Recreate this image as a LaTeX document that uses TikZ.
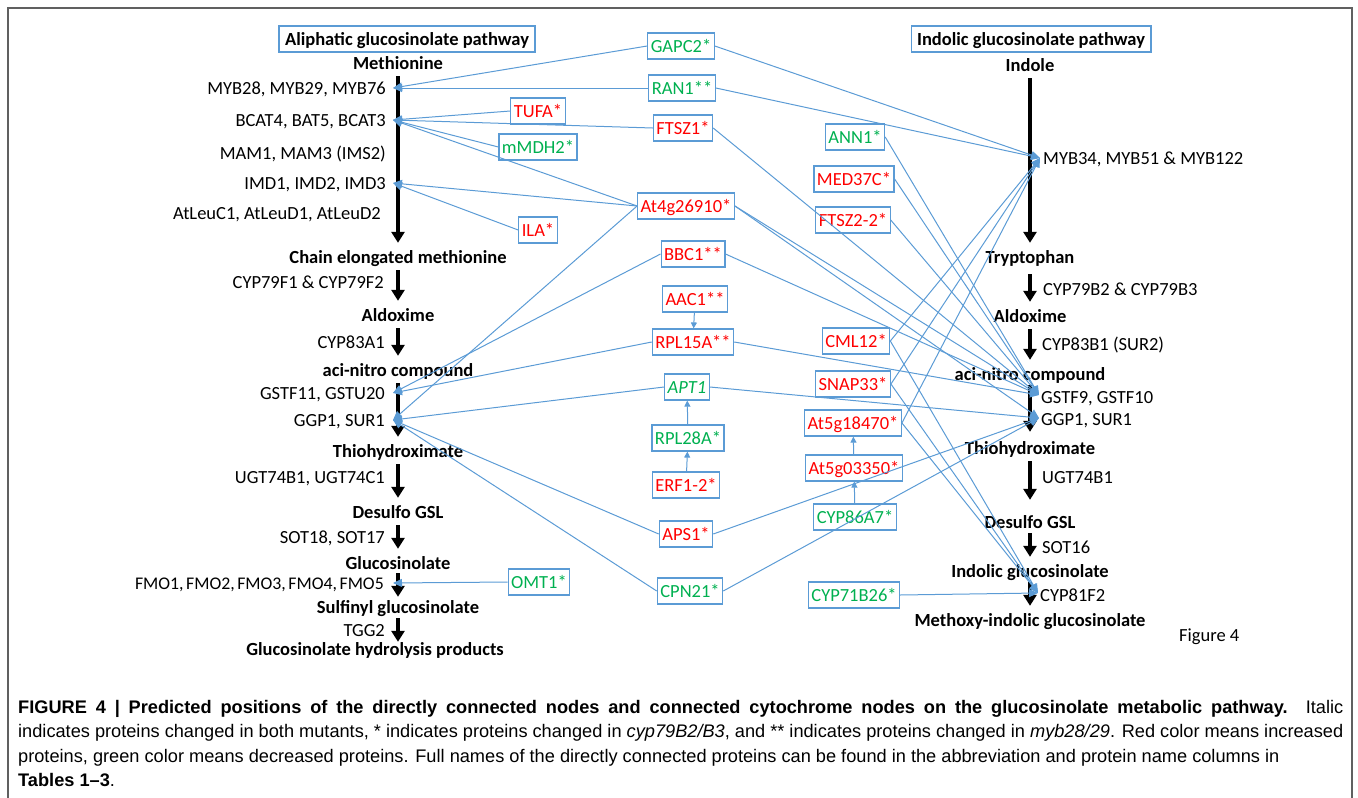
\documentclass[tikz,border=0pt]{standalone}
\usepackage{fontspec}
\setmainfont{Carlito}
\newfontfamily\capfont{Liberation Sans}
\usetikzlibrary{arrows.meta,positioning}
\definecolor{lnblue}{HTML}{5B9BD5}
\definecolor{incred}{HTML}{FF0000}
\definecolor{decgreen}{HTML}{00B050}
\definecolor{framegray}{HTML}{606060}
\newcommand{\dfont}{\fontsize{18.5}{22}\selectfont}

\tikzset{
  lbl/.style={font=\dfont, inner sep=0pt, text height=12pt, text depth=0pt},
  met/.style={lbl, font=\dfont\bfseries},
  prot/.style={lbl, draw=lnblue, line width=1.2pt, inner xsep=3pt, inner ysep=7pt},
  incr/.style={prot, text=incred},
  decr/.style={prot, text=decgreen},
  titlebox/.style={met, draw=lnblue, line width=1.2pt, inner xsep=6pt, inner ysep=7pt},
  flow/.style={line width=4.5pt, -{Triangle[width=13pt,length=11pt]}, shorten <=7pt, shorten >=8pt},
  link/.style={lnblue, line width=1pt},
  hit/.style={link, -{Triangle[length=9pt,width=8pt]}},
}

\begin{document}
\begin{tikzpicture}[x=1pt,y=-1pt]
\useasboundingbox (0,0) rectangle (1358,798);
\draw[framegray, line width=1.5pt] (8,798) -- (8,8) -- (1352,8) -- (1352,798);

\node[titlebox] (aliph) at (407,39) {Aliphatic glucosinolate pathway};
\node[met] (methio) at (398,63) {Methionine};
\node[lbl, anchor=east] (myb28) at (386,88) {MYB28, MYB29, MYB76};
\node[lbl, anchor=east] (bcat4) at (386,120) {BCAT4, BAT5, BCAT3};
\node[lbl, anchor=east] (mam1) at (386,153) {MAM1, MAM3 (IMS2)};
\node[lbl, anchor=east] (imd1) at (386,183) {IMD1, IMD2, IMD3};
\node[lbl, anchor=east] (leuc) at (381,213) {AtLeuC1, AtLeuD1, AtLeuD2};
\node[met] (chain) at (398,257) {Chain elongated methionine};
\node[lbl, anchor=east] (cyp79f) at (384,282) {CYP79F1 \& CYP79F2};
\node[met] (aldL) at (398,315) {Aldoxime};
\node[lbl, anchor=east] (cyp83a1) at (385,342) {CYP83A1};
\node[met] (aciL) at (398,370) {aci-nitro compound};
\node[lbl, anchor=east] (gstf11) at (385,393) {GSTF11, GSTU20};
\node[lbl, anchor=east] (ggpL) at (385,420) {GGP1, SUR1};
\node[met] (thioL) at (398,451) {Thiohydroximate};
\node[lbl, anchor=east] (ugtL) at (385,477) {UGT74B1, UGT74C1};
\node[met] (desL) at (398,512) {Desulfo GSL};
\node[lbl, anchor=east] (sot18) at (385,537) {SOT18, SOT17};
\node[met] (glucL) at (398,563) {Glucosinolate};
\node[lbl, anchor=east, font=\fontsize{17.8}{22}\selectfont] (fmo) at (384,583) {FMO1,\kern2.5pt FMO2,\kern2.5pt FMO3,\kern2.5pt FMO4,\kern2.5pt FMO5};
\node[met] (sulf) at (398,607) {Sulfinyl glucosinolate};
\node[lbl, anchor=east] (tgg2) at (385,630) {TGG2};
\node[met] (hydro) at (375,649) {Glucosinolate hydrolysis products};

\node[titlebox] (indol) at (1031,39) {Indolic glucosinolate pathway};
\node[met] (indole) at (1030,65) {Indole};
\node[lbl, anchor=west] (myb34) at (1043,158) {MYB34, MYB51 \& MYB122};
\node[met] (trp) at (1030,257) {Tryptophan};
\node[lbl, anchor=west] (cyp79b) at (1043,289) {CYP79B2 \& CYP79B3};
\node[met] (aldR) at (1030,316) {Aldoxime};
\node[lbl, anchor=west] (cyp83b1) at (1042,344) {CYP83B1 (SUR2)};
\node[met] (aciR) at (1030,374) {aci-nitro compound};
\node[lbl, anchor=west] (gstf9) at (1041,397) {GSTF9, GSTF10};
\node[lbl, anchor=west] (ggpR) at (1041,419) {GGP1, SUR1};
\node[met] (thioR) at (1030,448) {Thiohydroximate};
\node[lbl, anchor=west] (ugtR) at (1042,477) {UGT74B1};
\node[met] (desR) at (1030,522) {Desulfo GSL};
\node[lbl, anchor=west] (sot16) at (1042,547) {SOT16};
\node[met] (indgl) at (1030,571) {Indolic glucosinolate};
\node[lbl, anchor=west] (cyp81f2) at (1040,595) {CYP81F2};
\node[met] (methox) at (1030,620) {Methoxy-indolic glucosinolate};
\node[lbl, anchor=west] (fig) at (1179,635) {Figure 4};

\node[decr] (gapc2) at (681,46) {GAPC2*};
\node[decr] (ran1) at (682,88) {RAN1**};
\node[incr] (tufa) at (538,111) {TUFA*};
\node[incr] (ftsz1) at (683,128) {FTSZ1*};
\node[decr] (mmdh2) at (538,147) {mMDH2*};
\node[incr] (at4g) at (686,206) {At4g26910*};
\node[incr] (ila) at (538,230) {ILA*};
\node[incr] (bbc1) at (693,254) {BBC1**};
\node[incr] (aac1) at (695,299) {AAC1**};
\node[incr] (rpl15a) at (693,342) {RPL15A**};
\node[decr] (apt1) at (687,387) {\textit{APT1}};
\node[decr] (rpl28a) at (688,438) {RPL28A*};
\node[incr] (erf12) at (686,485) {ERF1-2*};
\node[incr] (aps1) at (686,534) {APS1*};
\node[decr] (omt1) at (539,582) {OMT1*};
\node[decr] (cpn21) at (690,591) {CPN21*};

\node[decr] (ann1) at (855,137) {ANN1*};
\node[incr] (med37c) at (854,179) {MED37C*};
\node[incr] (ftsz22) at (853,220) {FTSZ2-2*};
\node[incr] (cml12) at (856,341) {CML12*};
\node[incr] (snap33) at (853,384) {SNAP33*};
\node[incr] (at5g18) at (853,423) {At5g18470*};
\node[incr] (at5g03) at (854,468) {At5g03350*};
\node[decr] (cyp86) at (855,517) {CYP86A7*};
\node[decr] (cyp71) at (854,595) {CYP71B26*};

\coordinate (pmyb28) at (393,88);
\coordinate (pbcat) at (393,120);
\coordinate (pimd) at (393,183);
\coordinate (pgstL) at (393,393);
\coordinate (pggpL) at (393,420);
\coordinate (pfmo) at (393,583);
\coordinate (pmyb34) at (1040,158);
\coordinate (pgstR) at (1039,395);
\coordinate (pggpR) at (1039,418);
\coordinate (pcyp81) at (1038,593);

\draw[flow] (methio) -- (chain);
\draw[flow] (chain) -- (aldL);
\draw[flow] (aldL) -- (aciL);
\draw[flow] (aciL) -- (thioL);
\draw[flow] (thioL) -- (desL);
\draw[flow] (desL) -- (glucL);
\draw[flow, shorten <=4pt, shorten >=4pt] (glucL) -- (sulf);
\draw[flow, shorten <=5pt, shorten >=1pt] (sulf.south) -- (sulf.south |- hydro.north);

\draw[flow] (indole) -- (trp);
\draw[flow, shorten <=11pt] (trp) -- (aldR);
\draw[flow] (aldR) -- (aciR);
\draw[flow, shorten <=5pt, shorten >=10pt] (aciR) -- (thioR);
\draw[flow, shorten >=16pt] (thioR) -- (desR);
\draw[flow, shorten <=5pt] (desR) -- (indgl);
\draw[flow, shorten <=5pt] (indgl) -- (methox);

\foreach \s in {gapc2,ran1} \draw[hit] (\s.west) -- (pmyb28);
\foreach \s in {tufa,ftsz1,mmdh2,at4g} \draw[hit] (\s.west) -- (pbcat);
\foreach \s in {at4g,ila} \draw[hit] (\s.west) -- (pimd);
\foreach \s in {bbc1,rpl15a} \draw[hit] (\s.west) -- (pgstL);
\foreach \s in {at4g,apt1,aps1,cpn21} \draw[hit] (\s.west) -- (pggpL);
\draw[hit] (omt1.west) -- (pfmo);

\foreach \s in {gapc2,ran1,cml12,snap33,at5g18} \draw[hit] (\s.east) -- (pmyb34);
\foreach \s in {ftsz1,at4g,bbc1,ann1,med37c,ftsz22,rpl15a} \draw[hit] (\s.east) -- (pgstR);
\foreach \s in {at4g,apt1,aps1,cpn21} \draw[hit] (\s.east) -- (pggpR);
\foreach \s in {cml12,snap33,at5g18,cyp71} \draw[hit] (\s.east) -- (pcyp81);

\draw[link, -{Triangle[length=6pt,width=6pt]}] (aac1) -- (rpl15a);
\draw[link, -{Triangle[length=6pt,width=6pt]}] (erf12) -- (rpl28a);
\draw[link, -{Triangle[length=6pt,width=6pt]}] (rpl28a) -- (apt1);
\draw[link, -{Triangle[length=6pt,width=6pt]}] (cyp86) -- (at5g03);
\draw[link, -{Triangle[length=6pt,width=6pt]}] (at5g03) -- (at5g18);

\node[anchor=base west, text width=1325pt, align=justify, inner sep=0pt,
  font=\capfont\fontsize{18.2}{24.5}\selectfont] (cap) at (18,713)
  {\textbf{FIGURE 4 | Predicted positions of the directly connected nodes and connected cytochrome nodes on the glucosinolate metabolic pathway.} Italic\linebreak
  indicates proteins changed in both mutants, * indicates proteins changed in \textit{cyp79B2/B3}, and ** indicates proteins changed in \textit{myb28/29}. Red color means increased\linebreak
  proteins, green color means decreased proteins. Full names of the directly connected proteins can be found in the abbreviation and protein name columns in\\
  \textbf{Tables 1–3}.};
\end{tikzpicture}
\end{document}
